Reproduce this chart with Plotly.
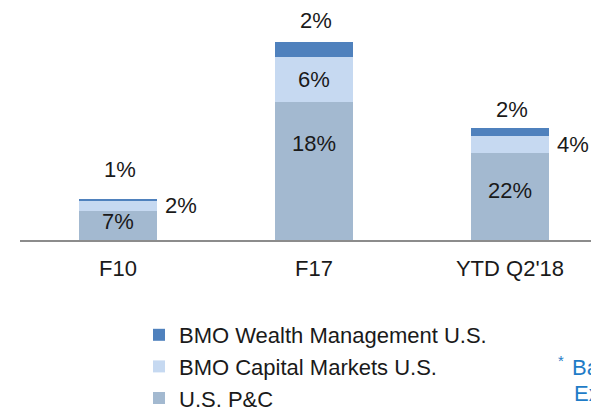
import plotly.graph_objects as go

categories = ["F10", "F17", "YTD Q2'18"]
series_names = ["U.S. P&C", "BMO Capital Markets U.S.", "BMO Wealth Management U.S."]
# bar heights (arbitrary units)
pc_values = [2.93, 13.8, 8.73]
cm_values = [0.97, 4.5, 1.7]
wm_values = [0.17, 1.5, 0.8]
# percentage labels shown on the chart
pc_labels = ["7%", "18%", "22%"]
cm_labels = ["2%", "6%", "4%"]
wm_labels = ["1%", "2%", "2%"]

colors = ["#A3B9D0", "#C6D9F1", "#4F81BD"]
FONT = "Liberation Sans"
W, H = 591, 409
ML, MR, MT, MB = 20, 0, 10, 169

fig = go.Figure()
for name, vals, col in zip(series_names, [pc_values, cm_values, wm_values], colors):
    fig.add_trace(go.Bar(x=categories, y=vals, name=name, marker=dict(color=col, line=dict(width=0)),
                         width=0.4, hoverinfo="skip"))

ann = []
tf = dict(family=FONT, size=22, color="#1a1a1a")
gray_shift = [4, 28, 6]
above_shift = [30, 22, 18]
for i, c in enumerate(categories):
    base = pc_values[i]
    mid_cm = base + cm_values[i] / 2
    top = base + cm_values[i] + wm_values[i]
    ann.append(dict(x=c, y=base / 2, text=pc_labels[i], showarrow=False, font=tf, yshift=gray_shift[i]))
    if cm_values[i] > 3:
        ann.append(dict(x=c, y=mid_cm, text=cm_labels[i], showarrow=False, font=tf))
    else:
        ann.append(dict(x=c, y=mid_cm, text=cm_labels[i], showarrow=False, font=tf, xshift=63))
    ann.append(dict(x=c, y=top, text=wm_labels[i], showarrow=False, font=tf,
                    yshift=above_shift[i], xshift=2))

pw = W - ML - MR
ph = H - MT - MB
def px(x):
    return (x - ML) / pw
def py(y):
    return (H - MB - y) / ph

blue = "#1F7CC7"
ann.append(dict(xref="paper", yref="paper", x=px(561), y=py(360), xanchor="center", yanchor="middle",
                text="*", showarrow=False, font=dict(family=FONT, size=15, color=blue)))
ann.append(dict(xref="paper", yref="paper", x=px(570), y=py(367), xanchor="left", yanchor="middle",
                text="Ba", showarrow=False, font=dict(family=FONT, size=22, color=blue)))
ann.append(dict(xref="paper", yref="paper", x=px(572), y=py(393), xanchor="left", yanchor="middle",
                text="Ex", showarrow=False, font=dict(family=FONT, size=22, color=blue)))

fig.update_layout(
    width=W, height=H,
    margin=dict(l=ML, r=MR, t=MT, b=MB, autoexpand=False),
    barmode="stack",
    plot_bgcolor="white", paper_bgcolor="white",
    showlegend=True,
    legend=dict(traceorder="reversed", xref="container", yref="container",
                x=139 / W, y=1 - 314 / H, xanchor="left", yanchor="top",
                font=dict(family=FONT, size=22, color="#1a1a1a"),
                bgcolor="rgba(0,0,0,0)"),
    annotations=ann,
    xaxis=dict(type="category", range=[-0.5, -0.5 + pw / 196.0], showline=True, linecolor="#8C8C8C",
               linewidth=2, showgrid=False, zeroline=False, ticks="", tickangle=0, automargin=False,
               ticklabelstandoff=8,
               tickfont=dict(family=FONT, size=22, color="#1a1a1a"), fixedrange=True),
    yaxis=dict(range=[0, ph / 10.0], visible=False, showgrid=False, zeroline=False, automargin=False),
)

fig.write_html("out.html", config={"displayModeBar": False, "staticPlot": True},
               post_script="document.body.style.margin='0';document.body.style.overflow='hidden';")
